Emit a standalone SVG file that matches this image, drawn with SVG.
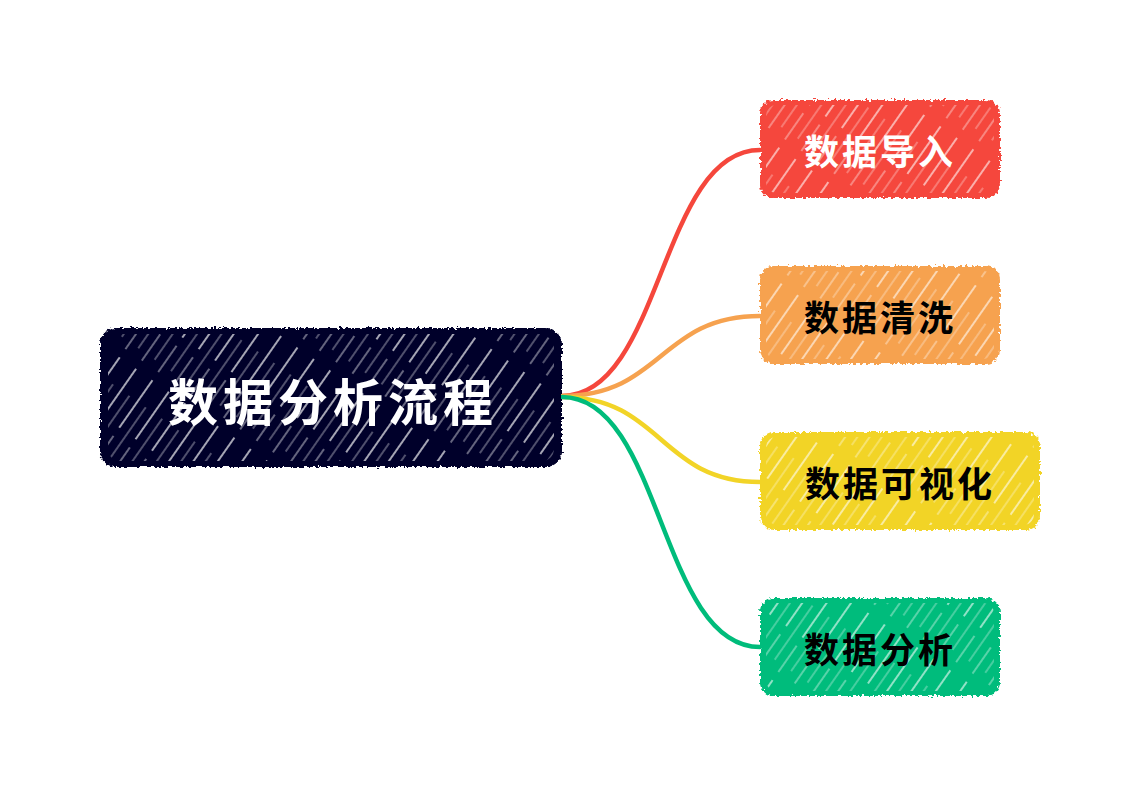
<svg xmlns="http://www.w3.org/2000/svg" width="1140" height="796" viewBox="0 0 1140 796">
<style>
.lbl{font-family:"Noto Sans CJK SC","Noto Sans",sans-serif;font-weight:700;text-anchor:middle;dominant-baseline:central}
.root{font-size:50px;letter-spacing:5px;fill:#ffffff}
.child{font-size:35px;letter-spacing:3px}
.hatch{fill:url(#hatch)}
.edge{fill:none;stroke-linecap:round}
</style>
<defs>
<filter id="rough" x="-5%" y="-5%" width="110%" height="110%">
<feTurbulence type="fractalNoise" baseFrequency="0.35" numOctaves="2" seed="3" result="n"/>
<feDisplacementMap in="SourceGraphic" in2="n" scale="6" xChannelSelector="R" yChannelSelector="G"/>
</filter>
<pattern id="hatch" width="20" height="110" patternUnits="userSpaceOnUse" patternTransform="rotate(35)">
<line x1="3" y1="4" x2="3" y2="62" stroke="#ffffff" stroke-width="1.8" opacity="0.9"/>
<line x1="3" y1="72" x2="3" y2="104" stroke="#ffffff" stroke-width="1.4" opacity="0.7"/>
<line x1="13" y1="30" x2="13" y2="96" stroke="#ffffff" stroke-width="1.3" opacity="0.6"/>
</pattern>
</defs>
<rect width="1140" height="796" fill="#ffffff"/>
<g id="connectors">
<path class="edge" d="M562,396 C662,396 660,150 760,150" stroke="#f5473c" stroke-width="4.5"/>
<path class="edge" d="M562,396 C662,396 660,316 760,316" stroke="#f6a24f" stroke-width="4.5"/>
<path class="edge" d="M562,397 C662,397 660,482 760,482" stroke="#f2d427" stroke-width="4.5"/>
<path class="edge" d="M562,397 C662,397 660,647 760,647" stroke="#00bc7b" stroke-width="4.5"/>
</g>
<g id="node-root">
<rect x="100" y="328" width="462" height="139" rx="16" fill="#02012b" filter="url(#rough)"/>
<rect x="108" y="334" width="446" height="127" rx="12" class="hatch" opacity="0.8"/>
<text class="lbl root" x="333" y="399">数据分析流程</text>
</g>
<g id="node-1">
<rect x="760" y="100" width="240" height="98" rx="14" fill="#f5473c" filter="url(#rough)"/>
<rect x="766" y="105" width="228" height="88" rx="10" class="hatch" opacity="0.7"/>
<text class="lbl child" x="880" y="149" fill="#ffffff">数据导入</text>
</g>
<g id="node-2">
<rect x="760" y="266" width="240" height="98" rx="14" fill="#f6a24f" filter="url(#rough)"/>
<rect x="766" y="271" width="228" height="88" rx="10" class="hatch" opacity="0.7"/>
<text class="lbl child" x="880" y="315" fill="#000000">数据清洗</text>
</g>
<g id="node-3">
<rect x="760" y="432" width="280" height="98" rx="14" fill="#f2d427" filter="url(#rough)"/>
<rect x="766" y="437" width="268" height="88" rx="10" class="hatch" opacity="0.7"/>
<text class="lbl child" x="900" y="481" fill="#000000">数据可视化</text>
</g>
<g id="node-4">
<rect x="760" y="598" width="240" height="98" rx="14" fill="#00bc7b" filter="url(#rough)"/>
<rect x="766" y="603" width="228" height="88" rx="10" class="hatch" opacity="0.7"/>
<text class="lbl child" x="880" y="647" fill="#000000">数据分析</text>
</g>
</svg>
